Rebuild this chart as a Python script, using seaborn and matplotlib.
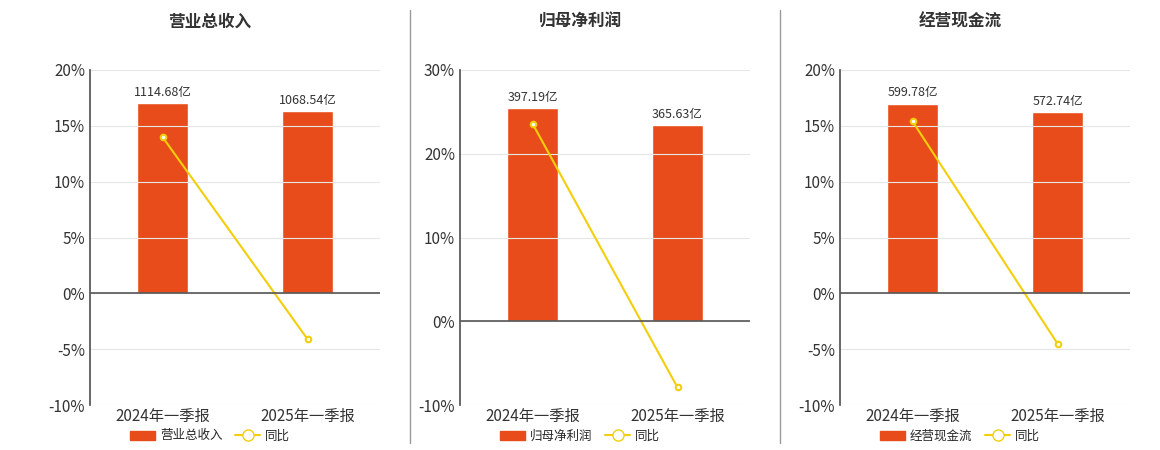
import matplotlib
matplotlib.use("Agg")
import matplotlib.pyplot as plt
import seaborn as sns
import pandas as pd
import numpy as np

sns.set_theme(style="white")
plt.rcParams['font.family'] = ['Noto Sans CJK SC', 'DejaVu Sans']

periods = ["2024年一季报", "2025年一季报"]
titles = ["营业总收入", "归母净利润", "经营现金流"]
values = [[1114.68, 1068.54], [397.19, 365.63], [599.78, 572.74]]
yoy = [[14.0, -4.1], [23.6, -7.9], [15.4, -4.5]]
ylims = [(-10, 20), (-10, 30), (-10, 20)]
yticks = [[-10, -5, 0, 5, 10, 15, 20], [-10, 0, 10, 20, 30], [-10, -5, 0, 5, 10, 15, 20]]
bar_top_pct = [17.0, 25.5, 17.0]  # where largest bar reaches on the percent axis

BAR = "#E84C1A"
LINE = "#F2CF0A"

fig = plt.figure(figsize=(11.6, 4.5), dpi=100)
lefts = [90, 460, 840]
for i in range(3):
    ax = fig.add_axes([lefts[i] / 1160, 0.1, 290 / 1160, 335 / 450])
    axb = ax.twinx()
    ax.set_zorder(axb.get_zorder() + 1)
    ax.patch.set_visible(False)
    lo, hi = ylims[i]
    scale = max(values[i]) / bar_top_pct[i]
    axb.set_ylim(lo * scale, hi * scale)
    df = pd.DataFrame({"p": periods, "v": values[i], "y": yoy[i]})
    sns.barplot(data=df, x="p", y="v", ax=axb, color=BAR, width=0.345, saturation=1)
    for p, v in zip(axb.patches, values[i]):
        axb.text(p.get_x() + p.get_width() / 2, v + (hi - lo) * scale * 0.012,
                 f"{v:.2f}亿", ha="center", va="bottom", fontsize=9, color="#333333")
    axb.set_yticks([]); axb.set_ylabel(""); axb.set_xlabel("")
    for s in axb.spines.values():
        s.set_visible(False)
    sns.lineplot(data=df, x="p", y="y", ax=ax, color=LINE, lw=1.5, marker="o",
                 markersize=4, markerfacecolor="white", markeredgecolor=LINE, markeredgewidth=1.5)
    ax.set_xlim(-0.5, 1.5)
    ax.set_ylim(lo, hi)
    ax.set_yticks(yticks[i])
    ax.set_yticklabels([f"{t}%" for t in yticks[i]], fontsize=11, color="#333333")
    ax.yaxis.grid(True, color="#E6E6E6", lw=0.8)
    axb.set_xlim(-0.5, 1.5)
    ax.axhline(0, color="#555555", lw=1.2)
    ax.tick_params(axis="x", labelsize=11, colors="#333333", length=0, pad=2)
    ax.tick_params(axis="y", length=0)
    ax.set_xlabel(""); ax.set_ylabel("")
    for k in ["top", "right", "bottom"]:
        ax.spines[k].set_visible(False)
    ax.spines["left"].set_color("#555555")
    fig.text((lefts[i] + 120) / 1160, 1 - 22 / 450, titles[i], ha="center", va="center",
             fontsize=12, fontweight="bold", color="#333333")
    from matplotlib.patches import Patch
    from matplotlib.lines import Line2D
    h = [Patch(color=BAR, label=titles[i]),
         Line2D([], [], color=LINE, marker="o", markerfacecolor="white", markersize=8, lw=1.5, label="同比")]
    fig.legend(handles=h, loc="center", bbox_to_anchor=((lefts[i] + 120) / 1160, 1 - 436 / 450),
               ncol=2, frameon=False, fontsize=9, handlelength=2, columnspacing=1, handletextpad=0.4)

for x in [410, 780]:
    fig.add_artist(plt.Line2D([x / 1160, x / 1160], [1 - 443 / 450, 1 - 10 / 450], color="#999999", lw=1))

fig.savefig("out.png", dpi=100)
